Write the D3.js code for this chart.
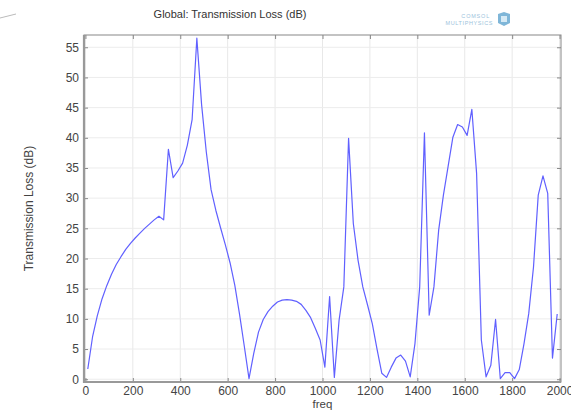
<!DOCTYPE html>
<html>
<head>
<meta charset="utf-8">
<script src="https://cdn.jsdelivr.net/npm/d3@7"></script>
<style>
html,body{margin:0;padding:0;background:#fff;}
svg{display:block;font-family:"Liberation Sans",Arial,sans-serif;}
</style>
</head>
<body>
<svg id="chart" width="571" height="412"></svg>
<script>
const freq = [10,30,50,70,90,110,130,150,170,190,210,230,250,270,290,310,330,350,370,390,
  410,430,450,470,490,510,530,550,570,590,610,630,650,670,690,710,730,750,770,790,
  810,830,850,870,890,910,930,950,970,990,1010,1030,1050,1070,1090,1110,1130,1150,1170,1190,
  1210,1230,1250,1270,1290,1310,1330,1350,1370,1390,1410,1430,1450,1470,1490,1510,1530,1550,1570,1590,
  1610,1630,1650,1670,1690,1710,1730,1750,1770,1790,1810,1830,1850,1870,1890,1910,1930,1950,1970,1990];
const transmissionLoss = [1.7,7.0,10.5,13.3,15.5,17.4,19.0,20.3,21.5,22.5,23.4,24.2,25.0,25.7,26.4,27.0,26.4,38.1,33.4,34.5,
  35.8,38.8,43.0,56.5,45.5,37.6,31.4,28.0,25.1,22.3,19.3,15.6,10.8,5.5,0.1,4.3,7.8,9.9,11.2,12.1,
  12.8,13.1,13.2,13.1,12.9,12.4,11.4,10.2,8.4,6.5,2.0,13.7,0.3,9.8,15.3,39.9,25.8,19.7,15.3,12.3,
  9.2,5.0,1.0,0.3,2.0,3.5,4.0,3.0,0.4,5.9,15.3,40.8,10.6,15.3,24.7,30.5,35.3,40.1,42.2,41.8,
  40.4,44.7,34.1,6.5,0.4,2.3,9.9,0.1,1.1,1.1,0.1,1.6,5.9,10.9,18.6,30.5,33.7,30.8,3.5,10.8];
const xTicks = [0,200,400,600,800,1000,1200,1400,1600,1800,2000];
const yTicks = [0,5,10,15,20,25,30,35,40,45,50,55];
const titleText = "Global: Transmission Loss (dB)";
const xLabel = "freq";
const yLabel = "Transmission Loss (dB)";

const svg = d3.select("#chart");
const L = 84, R = 561, T = 35, B = 382;
const x = d3.scaleLinear().domain([-6, 2006]).range([L, R]);
const y = d3.scaleLinear().domain([-0.46, 57.03]).range([B, T]);

// stray line top-left
svg.append("line").attr("x1",0).attr("y1",18).attr("x2",16).attr("y2",14)
  .attr("stroke","#bbb").attr("stroke-width",1);

// title
svg.append("text").attr("x",230).attr("y",17.5).attr("text-anchor","middle")
  .attr("font-size",11).attr("fill","#333").text(titleText);

// logo
const logo = svg.append("g").attr("fill","#9cc3dc");
logo.append("text").attr("x",490).attr("y",17.5).attr("text-anchor","end")
  .attr("font-size",5.5).attr("letter-spacing",0.8).text("COMSOL");
logo.append("text").attr("x",493).attr("y",24.5).attr("text-anchor","end")
  .attr("font-size",5.5).attr("letter-spacing",0.6).text("MULTIPHYSICS");
logo.append("path").attr("d","M498,14 L504,12 L510,14 L510,23 L504,26 L498,23 Z").attr("fill","#7fb6d8");
logo.append("path").attr("d","M501,16 L507,16 L507,22 L501,22 Z").attr("fill","#d6eaf5");

// grid
const grid = svg.append("g");
grid.selectAll("line.v").data(xTicks).enter().append("line")
  .attr("x1",d=>x(d)).attr("x2",d=>x(d)).attr("y1",T).attr("y2",B)
  .attr("stroke","#e8e8e8").attr("stroke-width",1);
grid.selectAll("line.h").data(yTicks).enter().append("line")
  .attr("x1",L).attr("x2",R).attr("y1",d=>y(d)).attr("y2",d=>y(d))
  .attr("stroke","#ececec").attr("stroke-width",1);

// curve
const pts = freq.map((f,i)=>[f, transmissionLoss[i]]);
svg.append("path").datum(pts)
  .attr("fill","none").attr("stroke","#6060ff").attr("stroke-width",1.2)
  .attr("stroke-linejoin","round")
  .attr("d", d3.line().x(d=>x(d[0])).y(d=>y(d[1])));

// axes (inward ticks)
const axCol = "#888";
function styleAxis(g, showText){
  g.select(".domain").remove();
  g.selectAll(".tick line").attr("stroke",axCol);
  g.selectAll(".tick text").attr("fill","#444").attr("font-size",12)
    .attr("font-family","Liberation Sans, Arial, sans-serif");
  if(!showText) g.selectAll(".tick text").remove();
}
svg.append("g").attr("transform",`translate(0,${B})`)
  .call(d3.axisBottom(x).tickValues(xTicks).tickSize(-4).tickPadding(4).tickFormat(d3.format("d")))
  .call(g=>styleAxis(g,true));
svg.append("g").attr("transform",`translate(0,${T})`)
  .call(d3.axisTop(x).tickValues(xTicks).tickSize(-4))
  .call(g=>styleAxis(g,false));
svg.append("g").attr("transform",`translate(${L},0)`)
  .call(d3.axisLeft(y).tickValues(yTicks).tickSize(-4).tickPadding(5).tickFormat(d3.format("d")))
  .call(g=>styleAxis(g,true));
svg.append("g").attr("transform",`translate(${R},0)`)
  .call(d3.axisRight(y).tickValues(yTicks).tickSize(-4))
  .call(g=>styleAxis(g,false));

// frame
svg.append("rect").attr("x",L).attr("y",T).attr("width",R-L).attr("height",B-T)
  .attr("fill","none").attr("stroke",axCol).attr("stroke-width",1);
svg.append("line").attr("x1",L).attr("x2",L).attr("y1",T).attr("y2",B+1)
  .attr("stroke","#999").attr("stroke-width",2.2);
svg.append("line").attr("x1",L).attr("x2",R).attr("y1",B).attr("y2",B)
  .attr("stroke","#999").attr("stroke-width",2);

// axis labels
svg.append("text").attr("x",(L+R)/2).attr("y",407.5).attr("text-anchor","middle")
  .attr("font-size",11.5).attr("fill","#444").text(xLabel);
svg.append("text").attr("transform",`translate(33,${(T+B)/2}) rotate(-90)`)
  .attr("text-anchor","middle").attr("font-size",12).attr("fill","#444").text(yLabel);
</script>
</body>
</html>
